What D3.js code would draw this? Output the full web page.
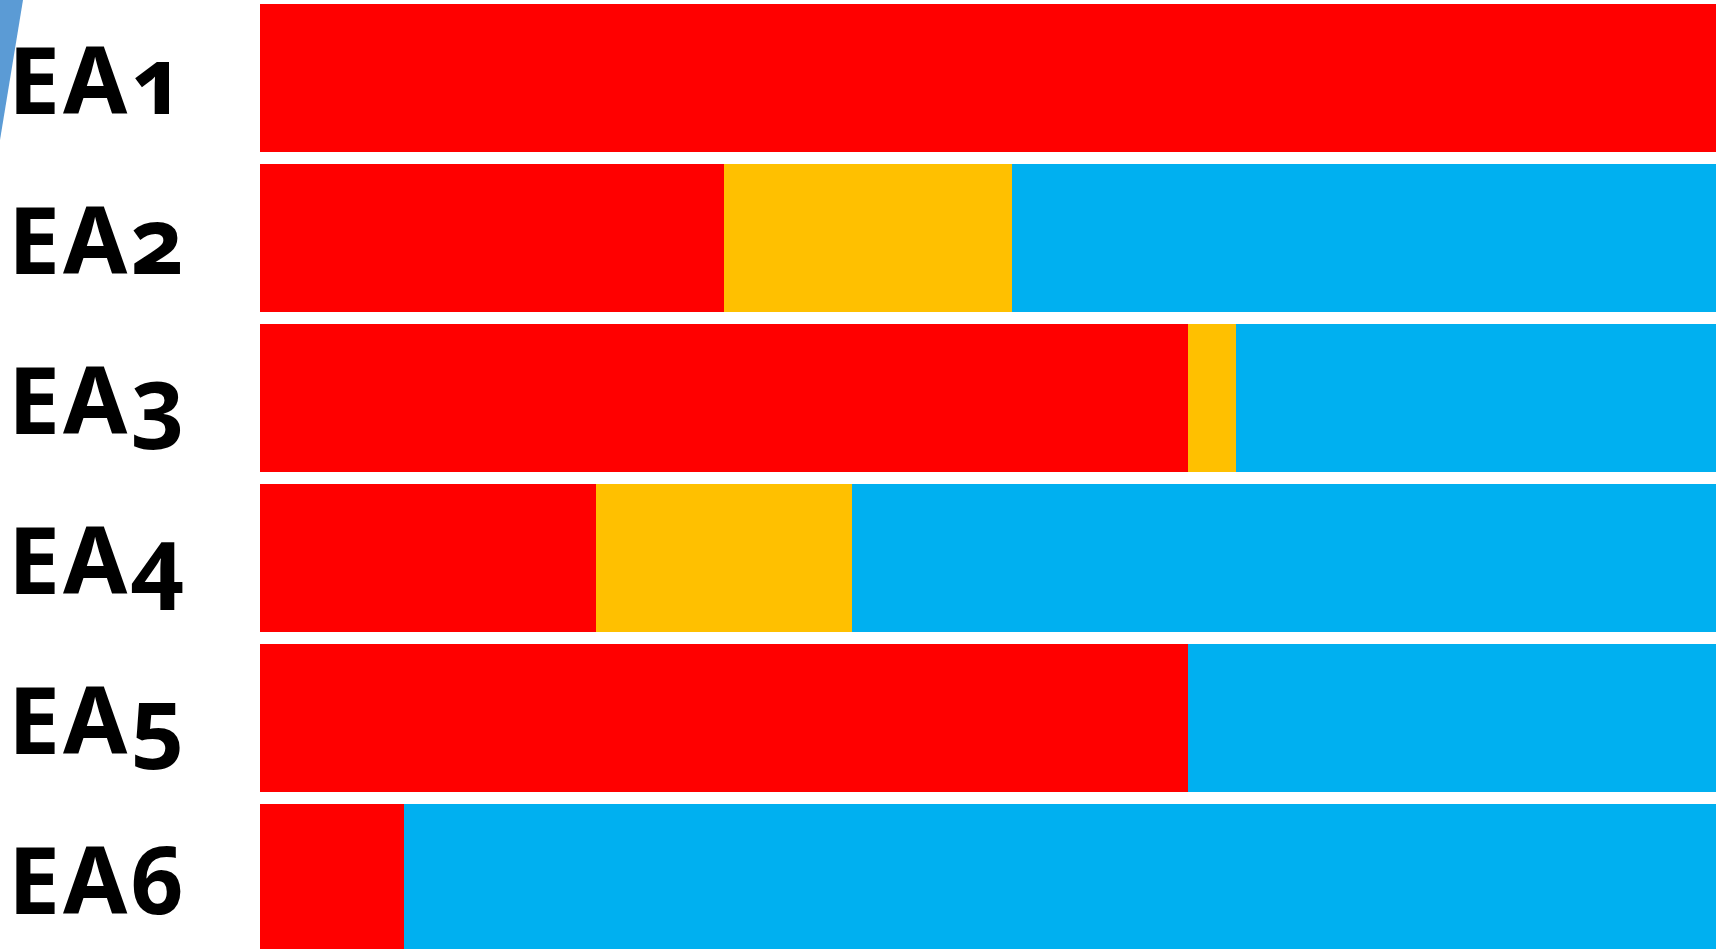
<!DOCTYPE html>
<html>
<head>
<meta charset="utf-8">
<script src="https://cdn.jsdelivr.net/npm/d3@7"></script>
<style>
  html, body { margin: 0; padding: 0; background: #fff; overflow: hidden; }
  .label { font-family: "Noto Sans", sans-serif; font-weight: 700; font-size: 93px; letter-spacing: 3px; font-feature-settings: "onum" 1; font-variant-numeric: oldstyle-nums; }
</style>
</head>
<body>
<svg id="chart" width="1718" height="949"></svg>
<script>
// rows and counts per segment (out of 91)
const categories = ["EA1", "EA2", "EA3", "EA4", "EA5", "EA6"];
const seriesKeys = ["red", "yellow", "blue"];
const redValues = [91, 29, 58, 21, 58, 9];
const yellowValues = [0, 18, 3, 16, 0, 0];
const blueValues = [0, 44, 30, 54, 33, 82];
const colors = ["#FF0000", "#FFC000", "#00B0F0"];

const width = 1718, height = 949;
const svg = d3.select("#chart");

// little blue slanted corner piece
svg.append("polygon")
  .attr("points", "0,0 23,0 0,140")
  .attr("fill", "#5B9BD5");

let rows = categories.map((c, i) => ({
  cat: c,
  red: redValues[i],
  yellow: yellowValues[i],
  blue: blueValues[i]
}));

let stacked = d3.stack().keys(seriesKeys)(rows);

let x = d3.scaleLinear()
  .domain([0, d3.max(rows, d => d.red + d.yellow + d.blue)])
  .range([260, 1716]);

let y = d3.scaleBand()
  .domain(categories)
  .range([-2, 958])
  .paddingInner(0.075)
  .paddingOuter(0.0375);

let color = d3.scaleOrdinal().domain(seriesKeys).range(colors);

svg.append("g")
  .selectAll("g")
  .data(stacked)
  .join("g")
    .attr("fill", s => color(s.key))
  .selectAll("rect")
  .data(s => s)
  .join("rect")
    .attr("x", d => x(d[0]))
    .attr("y", d => y(d.data.cat))
    .attr("width", d => x(d[1]) - x(d[0]))
    .attr("height", y.bandwidth())
    .attr("shape-rendering", "crispEdges");

svg.append("g")
  .selectAll("text")
  .data(categories)
  .join("text")
    .attr("class", "label")
    .attr("x", 8)
    .attr("y", d => y(d) + y.bandwidth() / 2 + 36)
    .text(d => d);
</script>
</body>
</html>
